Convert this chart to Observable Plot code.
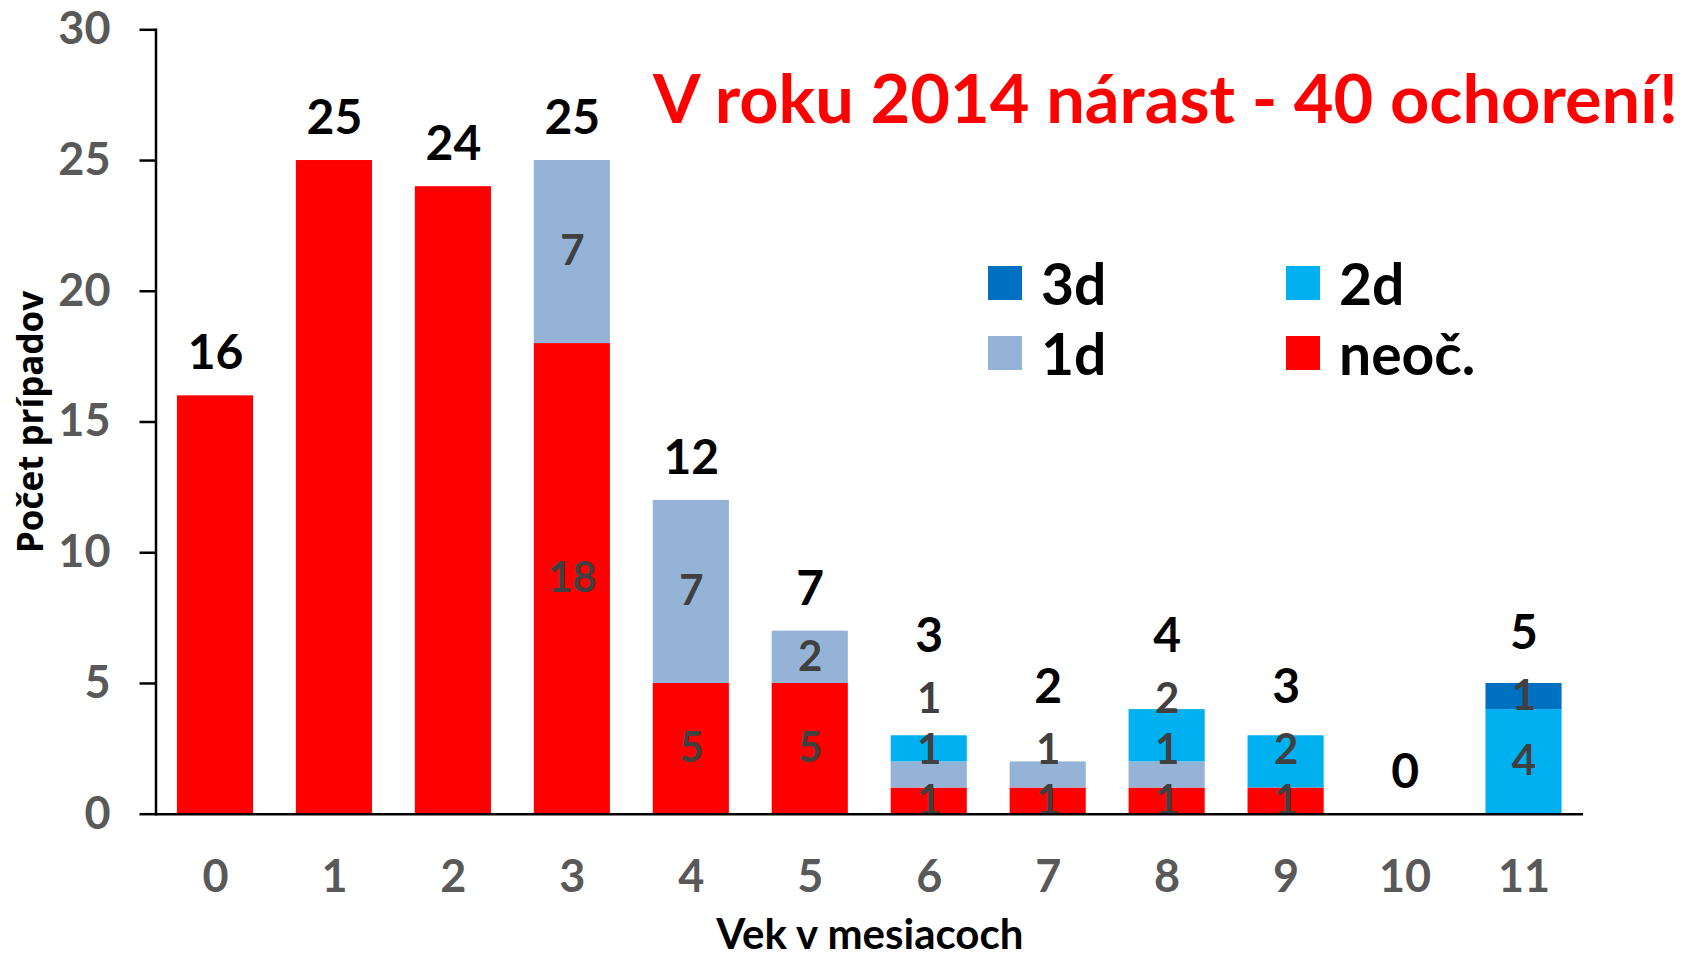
<!DOCTYPE html>
<html>
<head>
<meta charset="utf-8">
<script src="https://cdn.jsdelivr.net/npm/d3@7"></script>
<script src="https://cdn.jsdelivr.net/npm/@observablehq/plot@0.6"></script>
<style>
  html, body { margin: 0; padding: 0; background: #fff; }
  #wrap { position: relative; width: 1683px; height: 960px; overflow: hidden;
          font-family: Lato, "Open Sans", sans-serif; font-weight: bold; }
  #chart { position: absolute; left: 0; top: 0; }
  #title { position: absolute; left: 653px; top: 64px; color: #ff0000; font-size: 67px;
           line-height: 1; white-space: nowrap; transform-origin: left top; }
  #legend { position: absolute; left: 988px; top: 248px; display: grid;
            grid-template-columns: 298px 200px; grid-auto-rows: 70px; }
  .item { display: flex; align-items: center; }
  .sw { width: 34px; height: 34px; margin-right: 19px; flex: none; }
  .lab { font-size: 57px; line-height: 1; color: #000; white-space: nowrap; }
</style>
</head>
<body>
<div id="wrap">
  <div id="chart"></div>
  <div id="title"></div>
  <div id="legend"></div>
</div>
<script>
// ---- data ----
const months = ["0","1","2","3","4","5","6","7","8","9","10","11"];
const neoc   = [16,25,24,18,5,5,1,1,1,1,0,0];
const d1     = [0,0,0,7,7,2,1,1,1,0,0,0];
const d2     = [0,0,0,0,0,0,1,0,2,2,0,4];
const d3s    = [0,0,0,0,0,0,0,0,0,0,0,1];
const totals = [16,25,24,25,12,7,3,2,4,3,0,5];
const seriesNames  = ["neoč.","1d","2d","3d"];
const seriesColors = ["#FF0000","#95B3D7","#00B0F0","#0070C0"];
const legendOrder  = ["3d","2d","1d","neoč."];
const yTicks = [0,5,10,15,20,25,30];
const titleText = "V roku 2014 nárast - 40 ochorení!";
const xTitle = "Vek v mesiacoch";
const yTitle = "Počet prípadov";

// ---- build tables ----
const seriesValues = [neoc, d1, d2, d3s];
const long = [];
seriesNames.forEach((s, si) => months.forEach((m, i) => long.push({month: m, series: s, value: seriesValues[si][i]})));
const colorOf = Object.fromEntries(seriesNames.map((s, i) => [s, seriesColors[i]]));

// segment labels: shown only for bars made of several series; stacked midpoints,
// pushed apart (in data units) so that stacked labels do not sit on top of each other
const minGap = 1.95, totalGap = 2.4, totalLift = 1.6;
const segLabels = [];
const totalLabels = [];
months.forEach((m, i) => {
  const vals = seriesValues.map(arr => arr[i]);
  const parts = vals.filter(v => v > 0).length;
  let base = 0, prev = -Infinity;
  vals.forEach((v, si) => {
    if (v > 0 && parts > 1) {
      const pos = Math.max(base + v / 2, prev + minGap);
      segLabels.push({month: m, series: seriesNames[si], value: v, pos});
      prev = pos;
    }
    base += v;
  });
  totalLabels.push({month: m, total: totals[i], pos: Math.max(totals[i] + totalLift, prev + totalGap)});
});

const chart = Plot.plot({
  width: 1683,
  height: 960,
  marginLeft: 155.5,
  marginRight: 100,
  marginTop: 29.3,
  marginBottom: 146.3,
  style: {fontFamily: "Lato, 'Open Sans', sans-serif", fontWeight: "bold", background: "transparent", overflow: "visible"},
  x: {type: "band", domain: months, paddingInner: 0.36, paddingOuter: 0.18, align: 0.5, round: false},
  y: {domain: [0, 30]},
  color: {domain: seriesNames, range: seriesColors},
  marks: [
    Plot.barY(long, {x: "month", y: "value", fill: "series", order: seriesNames}),
    Plot.text(segLabels, {x: "month", y: "pos", text: d => String(d.value), fill: "#404040", fontSize: 42}),
    Plot.text(totalLabels, {x: "month", y: "pos", text: d => String(d.total), fill: "#000", fontSize: 48}),
    Plot.ruleY([0], {stroke: "#000", strokeWidth: 2.5}),
    Plot.frame({anchor: "left", stroke: "#000", strokeWidth: 2.5}),
    Plot.axisY({ticks: yTicks, tickSize: 16, tickPadding: 29.5, fontSize: 45, stroke: "#000", strokeWidth: 2.5, fill: "#595959", label: null}),
    Plot.axisX({tickSize: 0, tickPadding: 46, fontSize: 45, fill: "#595959", label: null}),
    Plot.text([xTitle], {frameAnchor: "bottom", text: d => d, lineAnchor: "middle", textAnchor: "middle", dy: 121, fontSize: 42, fill: "#000"}),
    Plot.text([yTitle], {frameAnchor: "left", text: d => d, rotate: -90, lineAnchor: "middle", textAnchor: "middle", dx: -124, fontSize: 35, fontFamily: "'Open Sans', Lato, sans-serif", fill: "#000"})
  ]
});
document.getElementById("chart").appendChild(chart);

// ---- title ----
const t = document.getElementById("title");
t.textContent = titleText;
const targetW = 1025;
const w = t.getBoundingClientRect().width;
if (w > 0) {
  const s = Math.max(0.85, Math.min(1.15, targetW / w));
  t.style.transform = `scaleX(${s})`;
}

// ---- legend ----
const lg = document.getElementById("legend");
legendOrder.forEach(s => {
  const it = document.createElement("div");
  it.className = "item";
  const sw = document.createElement("div");
  sw.className = "sw";
  sw.style.background = colorOf[s];
  const lab = document.createElement("div");
  lab.className = "lab";
  lab.textContent = s;
  it.appendChild(sw); it.appendChild(lab);
  lg.appendChild(it);
});
</script>
</body>
</html>
